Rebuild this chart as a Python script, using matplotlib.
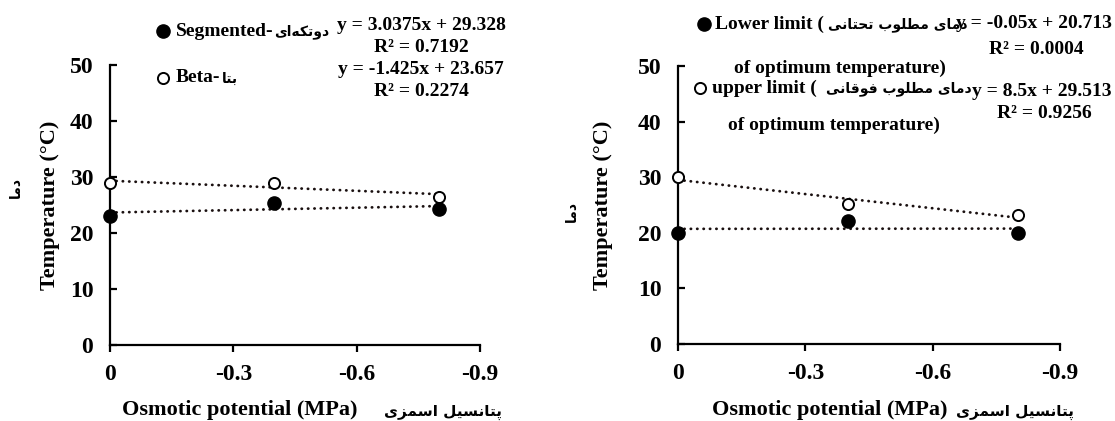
import numpy as np
import matplotlib
matplotlib.use('Agg')
import matplotlib.pyplot as plt

# data
osmotic = [0, -0.4, -0.8]
beta_temp = [28.9, 29.0, 26.5]          # open circles, left panel
segmented_temp = [23.1, 25.35, 24.25]   # filled circles, left panel
upper_temp = [30.0, 25.15, 23.2]        # open circles, right panel
lower_temp = [20.0, 22.15, 20.05]       # filled circles, right panel

x_ticks = [0, -0.3, -0.6, -0.9]
x_tick_labels = ['0', '-0.3', '-0.6', '-0.9']
y_ticks = [0, 10, 20, 30, 40, 50]

left_eqs = ['y = 3.0375x + 29.328', 'R² = 0.7192', 'y = -1.425x + 23.657', 'R² = 0.2274']
right_eqs = ['y = -0.05x + 20.713', 'R² = 0.0004', 'y = 8.5x + 29.513', 'R² = 0.9256']

# small persian shaper (matplotlib does no arabic shaping / bidi)
FORMS = {
    'ا': ('\uFE8D', '\uFE8E', None, None),
    'ب': ('\uFE8F', '\uFE90', '\uFE91', '\uFE92'),
    'پ': ('\uFB56', '\uFB57', '\uFB58', '\uFB59'),
    'ت': ('\uFE95', '\uFE96', '\uFE97', '\uFE98'),
    'ح': ('\uFEA1', '\uFEA2', '\uFEA3', '\uFEA4'),
    'د': ('\uFEA9', '\uFEAA', None, None),
    'ز': ('\uFEAF', '\uFEB0', None, None),
    'س': ('\uFEB1', '\uFEB2', '\uFEB3', '\uFEB4'),
    'ط': ('\uFEC1', '\uFEC2', '\uFEC3', '\uFEC4'),
    'ف': ('\uFED1', '\uFED2', '\uFED3', '\uFED4'),
    'ق': ('\uFED5', '\uFED6', '\uFED7', '\uFED8'),
    'ک': ('\uFB8E', '\uFB8F', '\uFB90', '\uFB91'),
    'ل': ('\uFEDD', '\uFEDE', '\uFEDF', '\uFEE0'),
    'م': ('\uFEE1', '\uFEE2', '\uFEE3', '\uFEE4'),
    'ن': ('\uFEE5', '\uFEE6', '\uFEE7', '\uFEE8'),
    'ه': ('\uFEE9', '\uFEEA', '\uFEEB', '\uFEEC'),
    'و': ('\uFEED', '\uFEEE', None, None),
    'ی': ('\uFBFC', '\uFBFD', '\uFBFE', '\uFBFF'),
}


def fa(s):
    out = []
    for i, c in enumerate(s):
        if c not in FORMS:
            out.append(c)
            continue
        prev = s[i - 1] if i > 0 else ''
        nxt = s[i + 1] if i + 1 < len(s) else ''
        jp = prev in FORMS and FORMS[prev][2] is not None
        jn = FORMS[c][2] is not None and nxt in FORMS
        iso, fin, ini, med = FORMS[c]
        if jp and jn:
            out.append(med)
        elif jp:
            out.append(fin)
        elif jn:
            out.append(ini)
        else:
            out.append(iso)
    return ''.join(reversed(out)).replace('\u200c', '')


SERIF = ['Liberation Serif', 'DejaVu Sans']
PERS = ['DejaVu Sans']

W, H = 1115, 421
fig = plt.figure(figsize=(W / 100, H / 100), dpi=100)


def fx(x):
    return x / W


def fy(y):
    return 1 - y / H


def make_axes(x0, x1, ytop, ybot):
    ax = fig.add_axes([fx(x0), fy(ybot), fx(x1) - fx(x0), fy(ytop) - fy(ybot)])
    ax.set_xlim(0, -0.9)
    ax.set_ylim(0, 50)
    ax.set_xticks(x_ticks)
    ax.set_xticklabels(x_tick_labels)
    ax.set_yticks(y_ticks)
    for s in ['top', 'right']:
        ax.spines[s].set_visible(False)
    for s in ['left', 'bottom']:
        ax.spines[s].set_linewidth(1.6)
    ax.tick_params(axis='y', direction='in', length=5, width=1.6, pad=12)
    ax.tick_params(axis='x', direction='out', length=5, width=1.6, pad=9)
    for lab in ax.get_xticklabels() + ax.get_yticklabels():
        lab.set_family(SERIF)
        lab.set_fontweight('bold')
        lab.set_fontsize(17)
    return ax


def series(ax, y, filled):
    x = np.array(osmotic)
    a, b = np.polyfit(x, y, 1)
    ax.plot(x, a * x + b, color='#1a1010', lw=2.0, linestyle=(0, (0.1, 2.2)),
            dash_capstyle='round', zorder=2)
    if filled:
        ax.plot(x, y, 'o', ms=9.5, color='black', clip_on=False, zorder=3)
    else:
        ax.plot(x, y, 'o', ms=8, mfc='white', mec='black', mew=1.4,
                clip_on=False, zorder=3)


def legend_mark(x, y, filled):
    if filled:
        fig.lines.append(plt.Line2D([fx(x)], [fy(y)], marker='o', ms=9.5,
                                    color='black', transform=fig.transFigure))
    else:
        fig.lines.append(plt.Line2D([fx(x)], [fy(y)], marker='o', ms=8,
                                    mfc='white', mec='black', mew=1.4,
                                    transform=fig.transFigure))


def txt(x, y, s, ha='left', size=14, family=SERIF, rot=0):
    fig.text(fx(x), fy(y), s, ha=ha, va='center', fontsize=size,
             fontweight='bold', family=family, rotation=rot)


# left panel
ax1 = make_axes(110, 480, 65, 345)
series(ax1, beta_temp, False)
series(ax1, segmented_temp, True)

legend_mark(163, 31, True)
txt(176, 31, 'Segmented-')
txt(274, 32, fa('دوتکه\u200cای'), size=10, family=PERS)
legend_mark(163, 78, False)
txt(176, 78, 'Beta-')
txt(222, 79, fa('بتا'), size=10, family=PERS)
for s, yy in zip(left_eqs, [25, 47, 70, 92]):
    txt(421, yy, s, ha='center')

txt(50, 205, 'Temperature (°C)', ha='center', size=16, rot=90)
txt(16, 188, fa('دما'), ha='center', size=10, family=PERS, rot=90)
txt(240, 410, 'Osmotic potential (MPa)', ha='center', size=16)
txt(443, 412, fa('پتانسیل اسمزی'), ha='center', size=11, family=PERS)

# right panel
ax2 = make_axes(678, 1060, 66, 344)
series(ax2, upper_temp, False)
series(ax2, lower_temp, True)

legend_mark(704, 24, True)
txt(715, 24, 'Lower limit (')
txt(828, 25, fa('دمای مطلوب تحتانی'), size=10, family=PERS)
txt(840, 68, 'of optimum temperature)', ha='center')
legend_mark(700, 88, False)
txt(712, 88, 'upper limit (')
txt(826, 89, fa('دمای مطلوب فوقانی'), size=10, family=PERS)
txt(834, 125, 'of optimum temperature)', ha='center')

txt(1112, 24, right_eqs[0], ha='right')
txt(1036, 50, right_eqs[1], ha='center')
txt(1112, 92, right_eqs[2], ha='right')
txt(1044, 113, right_eqs[3], ha='center')

txt(603, 205, 'Temperature (°C)', ha='center', size=16, rot=90)
txt(572, 212, fa('دما'), ha='center', size=10, family=PERS, rot=90)
txt(830, 410, 'Osmotic potential (MPa)', ha='center', size=16)
txt(1015, 412, fa('پتانسیل اسمزی'), ha='center', size=11, family=PERS)

fig.savefig('out.png', dpi=100)
